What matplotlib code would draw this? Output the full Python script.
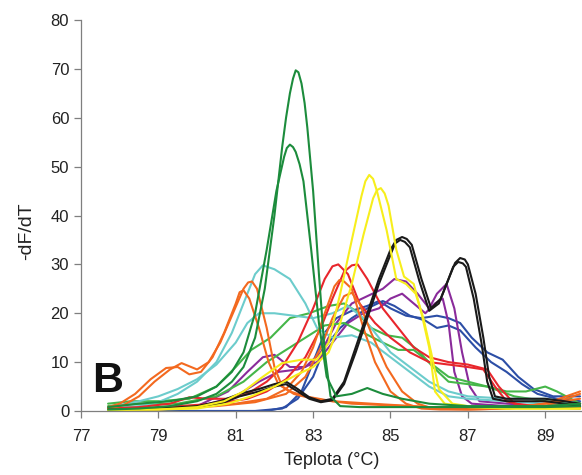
import matplotlib
matplotlib.use("Agg")
import matplotlib.pyplot as plt

plt.rcParams['font.family'] = ['Liberation Sans', 'DejaVu Sans']

# ---- data (temperature in °C, -dF/dT) ----
t_orange1 = [77.7, 78.0, 78.4, 78.8, 79.2, 79.5, 79.8, 80.1, 80.4, 80.7, 81.0, 81.1, 81.2, 81.35, 81.6, 81.85, 82.1, 82.4, 82.8, 83.5, 84.5, 86.0, 88.0, 89.9]
y_orange1 = [0.8, 1.5, 3.5, 6.5, 8.8, 9.0, 7.5, 8.0, 11.0, 16.0, 22.0, 24.3, 24.7, 23.0, 17.0, 10.0, 5.5, 4.0, 3.0, 2.0, 1.5, 0.8, 0.5, 1.5]
t_orange2 = [77.7, 78.1, 78.5, 78.9, 79.3, 79.6, 80.0, 80.3, 80.6, 80.9, 81.2, 81.32, 81.42, 81.55, 81.8, 82.0, 82.2, 82.5, 83.0, 84.0, 86.0, 88.0, 89.9]
y_orange2 = [0.5, 1.2, 3.0, 6.0, 8.5, 9.8, 8.5, 10.0, 14.0, 19.5, 25.0, 26.3, 26.5, 25.0, 17.0, 9.0, 5.0, 3.5, 2.5, 1.5, 0.8, 0.5, 2.5]
t_orange3 = [77.7, 79.0, 80.0, 81.0, 81.8, 82.3, 82.7, 83.0, 83.3, 83.55, 83.68, 83.8, 84.0, 84.3, 84.6, 85.0, 85.4, 85.8, 86.3, 87.0, 88.0, 89.0, 89.9]
y_orange3 = [0.3, 0.5, 1.0, 1.5, 2.5, 4.5, 8.0, 13.0, 20.0, 25.5, 26.8, 26.5, 25.0, 17.0, 10.0, 4.0, 1.5, 0.5, 0.3, 0.3, 0.5, 1.0, 3.5]
t_orange4 = [77.7, 79.0, 80.5, 81.5, 82.3, 82.8, 83.2, 83.5, 83.8, 84.0, 84.2, 84.5, 84.9, 85.3, 85.7, 86.1, 87.0, 88.0, 89.0, 89.9]
y_orange4 = [0.2, 0.4, 1.0, 1.8, 3.5, 7.0, 13.0, 19.0, 23.5, 24.2, 22.0, 16.0, 9.0, 4.0, 1.5, 0.5, 0.3, 0.5, 1.5, 4.0]

t_cyan1 = [77.7, 78.5, 79.0, 79.5, 80.0, 80.5, 80.9, 81.2, 81.5, 81.7, 82.0, 82.4, 82.8, 83.1, 83.5, 84.0, 84.5, 85.0, 85.5, 86.0, 86.5, 87.0, 88.0, 89.0, 89.9]
y_cyan1 = [0.5, 1.0, 1.8, 3.5, 6.0, 10.0, 16.0, 22.0, 28.0, 29.8, 29.0, 27.0, 22.0, 17.0, 15.0, 15.5, 14.0, 11.0, 8.0, 5.0, 3.0, 2.5, 2.0, 1.5, 1.5]
t_cyan2 = [77.7, 78.5, 79.0, 79.5, 80.0, 80.5, 81.0, 81.3, 81.6, 82.0, 82.5, 83.0, 83.5, 83.9, 84.3, 84.7, 85.0, 85.5, 86.0, 86.5, 87.0, 88.0, 89.0, 89.9]
y_cyan2 = [0.8, 2.0, 3.0, 4.5, 6.5, 9.5, 14.0, 18.0, 20.0, 20.0, 19.5, 19.0, 20.0, 21.5, 19.0, 15.0, 12.0, 9.0, 6.0, 4.0, 3.0, 2.5, 2.5, 1.5]

t_green1 = [77.7, 78.5, 79.3, 80.0, 80.5, 80.9, 81.2, 81.5, 81.75, 82.0, 82.2, 82.3, 82.4, 82.48, 82.55, 82.62, 82.7, 82.78, 82.85, 83.0, 83.15, 83.3, 83.45, 83.7, 84.2, 85.0, 86.0, 87.0, 88.0, 89.0, 89.9]
y_green1 = [0.3, 0.5, 1.0, 2.0, 3.5, 6.0, 9.0, 15.0, 25.0, 40.0, 54.0, 60.0, 65.0, 68.0, 69.7, 69.3, 67.0, 63.0, 58.0, 45.0, 28.0, 12.0, 3.0, 1.0, 0.8, 0.8, 0.8, 0.8, 0.8, 0.8, 1.0]
t_green2 = [77.7, 78.5, 79.3, 80.0, 80.5, 80.9, 81.2, 81.5, 81.8, 82.05, 82.25, 82.32, 82.4, 82.48, 82.55, 82.65, 82.75, 82.95, 83.15, 83.35, 83.6, 84.0, 84.4, 84.8, 85.3, 86.0, 87.0, 88.0, 89.0, 89.9]
y_green2 = [0.8, 1.5, 2.0, 3.0, 5.0, 8.0, 12.0, 20.0, 33.0, 45.0, 52.0, 53.8, 54.5, 54.0, 53.0, 50.5, 47.0, 33.0, 18.0, 7.0, 3.0, 3.5, 4.7, 3.5, 2.5, 1.5, 1.0, 1.0, 1.0, 1.5]

t_lgreen1 = [77.7, 78.3, 79.0, 79.8, 80.5, 81.0, 81.4, 81.9, 82.4, 82.9, 83.4, 83.8, 84.1, 84.5, 84.9, 85.3, 85.7, 86.1, 86.5, 87.0, 87.5, 88.0, 88.5, 89.0, 89.3, 89.9]
y_lgreen1 = [1.5, 2.0, 2.0, 2.5, 5.0, 9.0, 12.5, 15.0, 19.0, 20.0, 21.5, 22.0, 20.5, 17.0, 15.5, 15.0, 12.5, 9.0, 6.0, 5.5, 5.0, 4.0, 4.0, 5.0, 4.0, 1.5]
t_lgreen2 = [77.7, 78.5, 79.5, 80.5, 81.2, 81.8, 82.3, 82.8, 83.3, 83.8, 84.3, 84.8, 85.2, 85.6, 86.0, 86.5, 87.0, 87.5, 88.2, 89.0, 89.9]
y_lgreen2 = [1.0, 1.5, 1.5, 3.0, 6.0, 10.0, 12.5, 15.0, 17.5, 18.0, 16.0, 14.0, 12.5, 12.5, 10.0, 7.0, 6.0, 5.0, 3.0, 2.0, 1.5]

t_red1 = [77.7, 78.5, 79.3, 79.8, 80.3, 80.8, 81.3, 81.8, 82.2, 82.6, 83.0, 83.3, 83.5, 83.65, 83.9, 84.2, 84.6, 85.0, 85.5, 86.0, 86.5, 87.0, 87.4, 87.7, 88.0, 88.5, 89.2, 89.9]
y_red1 = [0.5, 0.8, 1.5, 2.8, 2.5, 2.5, 3.5, 6.0, 9.0, 14.0, 21.0, 27.0, 29.6, 30.0, 28.0, 22.0, 18.0, 15.0, 12.0, 10.0, 9.5, 9.0, 8.5, 5.0, 2.0, 1.0, 1.0, 0.8]
t_red2 = [77.7, 78.5, 79.5, 80.5, 81.3, 81.8, 82.3, 82.8, 83.2, 83.5, 83.8, 84.0, 84.15, 84.4, 84.8, 85.2, 85.6, 86.0, 86.5, 87.0, 87.5, 87.8, 88.2, 89.0, 89.9]
y_red2 = [0.3, 0.5, 1.0, 1.5, 2.5, 4.0, 6.5, 11.0, 17.0, 23.0, 28.5, 29.8, 30.0, 27.0, 21.0, 17.0, 13.0, 11.0, 10.0, 9.5, 8.5, 5.0, 1.5, 0.8, 0.5]

t_yellow1 = [77.7, 79.0, 80.0, 80.7, 81.2, 81.7, 82.2, 82.7, 83.1, 83.4, 83.7, 84.0, 84.25, 84.35, 84.45, 84.55, 84.65, 84.9, 85.15, 85.4, 85.65, 85.85, 86.05, 86.25, 86.6, 87.0, 88.0, 89.0, 89.9]
y_yellow1 = [0.2, 0.3, 0.8, 2.0, 4.0, 7.0, 9.8, 10.5, 10.5, 14.0, 24.0, 35.0, 44.0, 47.0, 48.3, 47.5, 45.0, 37.0, 27.0, 26.0, 24.0, 19.0, 12.0, 4.5, 1.5, 1.0, 0.5, 0.5, 0.5]
t_yellow2 = [77.7, 79.0, 80.0, 80.8, 81.4, 82.0, 82.6, 83.0, 83.4, 83.7, 84.0, 84.3, 84.55, 84.65, 84.75, 84.85, 84.95, 85.15, 85.35, 85.6, 85.8, 86.0, 86.15, 86.4, 87.0, 88.0, 89.0, 89.9]
y_yellow2 = [0.2, 0.3, 0.5, 1.5, 3.0, 5.0, 7.5, 9.0, 12.0, 18.0, 26.0, 36.0, 43.5, 45.2, 45.6, 44.5, 42.0, 33.0, 27.5, 26.0, 20.0, 13.0, 4.0, 1.5, 0.8, 0.5, 0.5, 0.5]

t_black1 = [77.7, 79.0, 80.0, 80.6, 81.1, 81.6, 82.0, 82.3, 82.6, 82.9, 83.2, 83.5, 83.8, 84.1, 84.4, 84.7, 85.0, 85.15, 85.3, 85.42, 85.55, 85.8, 86.05, 86.3, 86.55, 86.67, 86.8, 86.92, 87.0, 87.2, 87.4, 87.55, 87.7, 88.0, 88.5, 89.0, 89.5, 89.9]
y_black1 = [0.3, 0.5, 1.0, 2.0, 3.5, 4.5, 5.5, 6.0, 4.5, 2.8, 2.0, 2.5, 6.0, 13.0, 20.0, 27.0, 33.0, 35.0, 35.6, 35.2, 34.0, 27.0, 21.0, 23.0, 28.0, 30.3, 31.3, 31.0, 30.0, 24.0, 15.0, 7.0, 3.0, 2.5, 2.5, 2.5, 2.0, 1.5]
t_black2 = [77.7, 79.0, 80.0, 80.6, 81.1, 81.6, 82.0, 82.3, 82.6, 82.9, 83.2, 83.5, 83.8, 84.1, 84.4, 84.7, 85.0, 85.12, 85.25, 85.37, 85.5, 85.75, 86.0, 86.25, 86.5, 86.62, 86.75, 86.87, 86.95, 87.15, 87.35, 87.5, 87.65, 88.0, 88.5, 89.0, 89.5, 89.9]
y_black2 = [0.2, 0.4, 0.8, 1.5, 3.0, 4.0, 5.0, 5.5, 4.0, 2.5, 1.8, 2.2, 5.5, 12.0, 19.0, 26.0, 32.0, 34.3, 35.0, 34.6, 33.5, 26.5, 20.5, 22.0, 27.0, 29.5, 30.5, 30.2, 29.5, 23.0, 14.0, 6.0, 2.5, 2.0, 2.0, 2.0, 1.5, 1.0]

t_purple1 = [77.7, 79.0, 80.0, 80.8, 81.3, 81.7, 82.0, 82.4, 82.8, 83.2, 83.6, 84.0, 84.4, 84.8, 85.1, 85.4, 85.7, 86.0, 86.2, 86.45, 86.65, 86.85, 87.05, 87.3, 88.0, 89.0, 89.9]
y_purple1 = [0.2, 0.3, 1.0, 4.0, 8.0, 11.0, 11.5, 9.0, 9.0, 12.0, 18.0, 22.0, 23.5, 25.0, 27.0, 26.5, 24.0, 21.0, 24.0, 26.0, 21.0, 12.0, 5.0, 2.0, 1.5, 1.0, 1.0]
t_purple2 = [77.7, 79.0, 80.0, 81.0, 81.6, 82.1, 82.6, 83.1, 83.5, 83.9, 84.3, 84.7, 85.0, 85.3, 85.6, 85.9, 86.15, 86.35, 86.5, 86.65, 86.85, 87.1, 88.0, 89.9]
y_purple2 = [0.2, 0.3, 0.8, 3.0, 6.0, 8.0, 8.5, 10.0, 14.0, 18.0, 20.0, 21.0, 23.0, 24.0, 22.0, 20.0, 22.0, 23.0, 18.0, 8.0, 3.0, 1.5, 1.0, 1.0]

t_blue1 = [77.7, 79.0, 80.0, 81.0, 81.8, 82.3, 82.7, 83.0, 83.3, 83.6, 84.0, 84.4, 84.7, 85.0, 85.4, 85.8, 86.2, 86.5, 86.8, 87.1, 87.5, 87.9, 88.3, 88.7, 89.2, 89.9]
y_blue1 = [0.0, 0.0, 0.0, 0.0, 0.0, 0.8, 4.0, 10.0, 16.0, 19.0, 20.5, 21.5, 22.5, 21.0, 19.5, 19.0, 19.5, 19.0, 18.0, 15.0, 12.0, 10.5, 7.0, 4.5, 3.0, 3.0]
t_blue2 = [77.7, 80.0, 81.5, 82.2, 82.6, 83.0, 83.3, 83.7, 84.0, 84.4, 84.8, 85.1, 85.5, 85.9, 86.2, 86.5, 86.8, 87.2, 87.6, 88.0, 88.4, 88.8, 89.3, 89.9]
y_blue2 = [0.0, 0.0, 0.0, 0.5, 2.5, 7.0, 13.0, 17.0, 19.0, 21.0, 22.5, 21.5, 19.5, 18.5, 17.0, 17.5, 16.5, 13.0, 10.0, 8.0, 5.5, 3.5, 2.5, 2.0]

x_ticks = [77, 79, 81, 83, 85, 87, 89]
y_ticks = [0, 10, 20, 30, 40, 50, 60, 70, 80]

curves = [
    (t_blue1, y_blue1, '#2c4ea6'), (t_blue2, y_blue2, '#2c4ea6'),
    (t_purple1, y_purple1, '#8a2b9b'), (t_purple2, y_purple2, '#8a2b9b'),
    (t_lgreen1, y_lgreen1, '#45b649'), (t_lgreen2, y_lgreen2, '#45b649'),
    (t_cyan1, y_cyan1, '#6ccccc'), (t_cyan2, y_cyan2, '#6ccccc'),
    (t_red1, y_red1, '#e8262c'), (t_red2, y_red2, '#e8262c'),
    (t_orange1, y_orange1, '#f3691f'), (t_orange2, y_orange2, '#f3691f'),
    (t_orange3, y_orange3, '#f3691f'), (t_orange4, y_orange4, '#f3691f'),
    (t_black1, y_black1, '#1a1a1a'), (t_black2, y_black2, '#1a1a1a'),
    (t_yellow1, y_yellow1, '#f7ee1c'), (t_yellow2, y_yellow2, '#f7ee1c'),
    (t_green1, y_green1, '#1c8c3c'), (t_green2, y_green2, '#1c8c3c'),
]

fig = plt.figure(figsize=(5.82, 4.75), dpi=100)
ax = fig.add_axes([81/582, 64/475, 1 - 81/582, 391/475])

for t, y, c in curves:
    ax.plot(t, y, color=c, lw=1.5, solid_joinstyle='round', solid_capstyle='round')

ax.set_xlim(77, 89.95)
ax.set_ylim(0, 80)
ax.set_xticks(x_ticks)
ax.set_yticks(y_ticks)
for s in ['top', 'right']:
    ax.spines[s].set_visible(False)
for s in ['left', 'bottom']:
    ax.spines[s].set_color('#7f7f7f')
    ax.spines[s].set_linewidth(0.9)
ax.tick_params(axis='both', colors='#7f7f7f', labelcolor='#222222', labelsize=12, length=5, width=0.9)
ax.tick_params(axis='x', pad=8)
ax.set_xlabel('Teplota (°C)', fontsize=13, color='#222222', labelpad=6)
ax.set_ylabel('-dF/dT', fontsize=14, color='#222222')
ax.yaxis.set_label_coords(-0.092, 0.46)
ax.text(77.3, 3.9, 'B', fontsize=31, fontweight='bold', color='#111111', va='baseline', ha='left')

fig.savefig('out.png', dpi=100)
